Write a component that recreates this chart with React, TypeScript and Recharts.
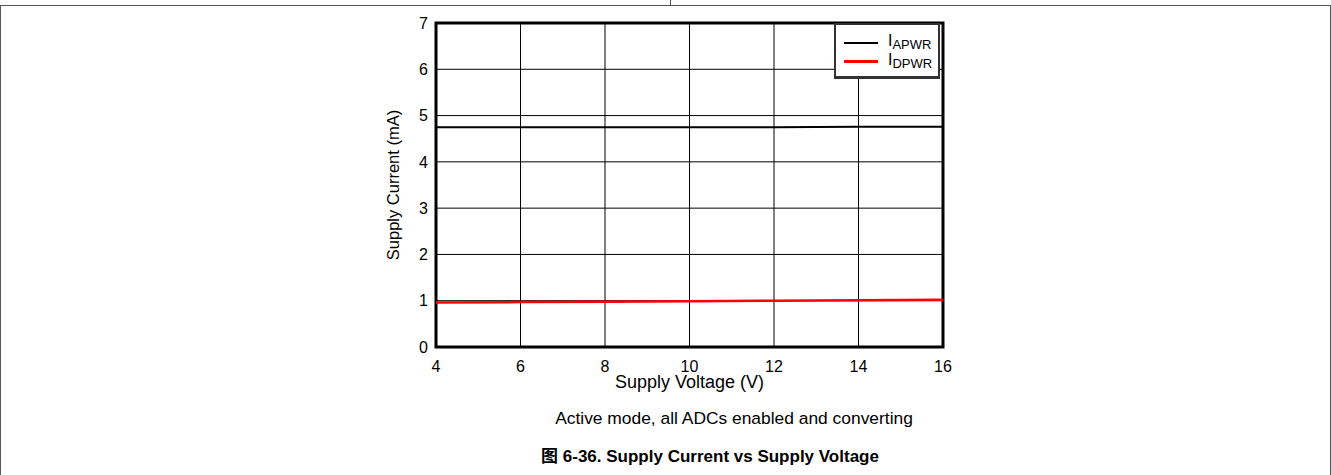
import React from "react";
import {
  CartesianGrid,
  Label,
  Legend,
  Line,
  LineChart,
  ReferenceArea,
  XAxis,
  YAxis,
} from "recharts";

// values
const supplyVoltage = [4, 6, 8, 10, 12, 14, 16];
const iApwr = [4.75, 4.75, 4.75, 4.75, 4.75, 4.76, 4.76];
const iDpwr = [0.96, 0.97, 0.98, 0.99, 1.0, 1.01, 1.02];

const xTicks = [4, 6, 8, 10, 12, 14, 16];
const yTicks = [0, 1, 2, 3, 4, 5, 6, 7];

const seriesMeta = [
  { key: "apwr", sub: "APWR", color: "#000000", width: 2 },
  { key: "dpwr", sub: "DPWR", color: "#ff0000", width: 2.5 },
];

const chartData = supplyVoltage.map((v, i) => ({
  v,
  apwr: iApwr[i],
  dpwr: iDpwr[i],
}));

const FONT = "'Liberation Sans', Arial, sans-serif";

function LegendBox() {
  return (
    <div
      style={{
        width: 106,
        height: 56,
        boxSizing: "border-box",
        border: "2px solid #333",
        borderBottomWidth: 3,
        background: "#fff",
        fontFamily: FONT,
        paddingTop: 8,
        paddingLeft: 8,
      }}
    >
      {seriesMeta.map((s) => (
        <div
          key={s.key}
          style={{ display: "flex", alignItems: "center", height: 19 }}
        >
          <div
            style={{
              width: 34,
              height: s.width,
              background: s.color,
              marginRight: 10,
            }}
          />
          <span style={{ fontSize: 16, color: "#000", lineHeight: "16px" }}>
            I
            <sub style={{ fontSize: 13, verticalAlign: "-3px" }}>{s.sub}</sub>
          </span>
        </div>
      ))}
    </div>
  );
}

export default function App() {
  return (
    <div
      style={{
        position: "absolute",
        left: 0,
        top: 0,
        width: 1331,
        height: 475,
        background: "#fff",
        fontFamily: FONT,
        overflow: "hidden",
      }}
    >
      {/* page frame */}
      <div style={{ position: "absolute", left: 0, top: 5, width: 1331, height: 1, background: "#555" }} />
      <div style={{ position: "absolute", left: 670, top: 0, width: 1, height: 5, background: "#555" }} />
      <div style={{ position: "absolute", left: 0, top: 5, width: 1, height: 470, background: "#555" }} />
      <div style={{ position: "absolute", left: 1330, top: 5, width: 1, height: 470, background: "#555" }} />

      <div style={{ position: "absolute", left: 0, top: 0 }}>
        <LineChart
          width={1331}
          height={475}
          data={chartData}
          margin={{ top: 23, right: 388, bottom: 87, left: 350 }}
        >
          <CartesianGrid stroke="#000" strokeWidth={1} />
          <XAxis
            dataKey="v"
            type="number"
            domain={[4, 16]}
            ticks={xTicks}
            height={41}
            axisLine={false}
            tickLine={false}
            tickSize={6}
            tickMargin={8}
            tick={{ fontSize: 16, fill: "#000", fontFamily: FONT }}
          >
            <Label
              value="Supply Voltage (V)"
              position="insideBottom"
              offset={0}
              style={{ fontSize: 18, fill: "#000", fontFamily: FONT }}
            />
          </XAxis>
          <YAxis
            type="number"
            domain={[0, 7]}
            ticks={yTicks}
            width={86}
            axisLine={false}
            tickLine={false}
            tickSize={6}
            tickMargin={2}
            tick={{ fontSize: 16, fill: "#000", fontFamily: FONT }}
          >
            <Label
              value="Supply Current (mA)"
              angle={-90}
              position="center"
              style={{ fontSize: 16.5, fill: "#000", fontFamily: FONT }}
            />
          </YAxis>
          <ReferenceArea
            x1={4}
            x2={16}
            y1={0}
            y2={7}
            fill="none"
            stroke="#000"
            strokeWidth={3}
          />
          {seriesMeta.map((s) => (
            <Line
              key={s.key}
              dataKey={s.key}
              type="linear"
              stroke={s.color}
              strokeWidth={s.width}
              dot={false}
              isAnimationActive={false}
            />
          ))}
          <Legend
            layout="vertical"
            align="center"
            verticalAlign="middle"
            content={() => <LegendBox />}
            wrapperStyle={{ position: "absolute", left: 834, top: 23, width: 106, height: 56 }}
          />
        </LineChart>
      </div>

      <div
        style={{
          position: "absolute",
          left: 734,
          top: 408,
          transform: "translateX(-50%)",
          whiteSpace: "nowrap",
          fontSize: 17.4,
          color: "#000",
        }}
      >
        Active mode, all ADCs enabled and converting
      </div>
      <div
        style={{
          position: "absolute",
          left: 710,
          top: 442,
          transform: "translateX(-50%)",
          whiteSpace: "nowrap",
          fontSize: 17,
          fontWeight: "bold",
          color: "#000",
        }}
      >
        <span style={{ fontFamily: "'Noto Sans CJK SC', sans-serif" }}>图</span> 6-36. Supply Current vs Supply Voltage
      </div>
    </div>
  );
}
